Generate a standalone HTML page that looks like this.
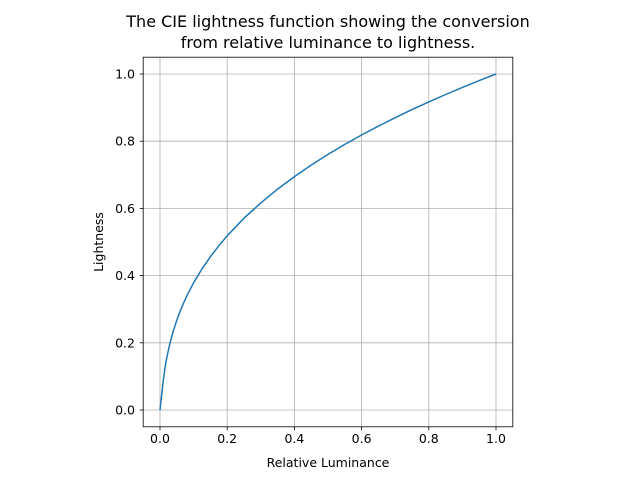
<!DOCTYPE html>
<html><head><style>body{margin:0;background:#fff}svg{display:block}text{font-family:"DejaVu Sans","Liberation Sans",sans-serif;fill:#000}</style></head>
<body>
<svg width="640" height="480" viewBox="0 0 640 480" xmlns="http://www.w3.org/2000/svg">
<rect width="640" height="480" fill="#fff"/>
<g stroke="#b0b0b0" stroke-width="0.8">
<line x1="160" y1="57.2" x2="160" y2="426.8"/><line x1="227.2" y1="57.2" x2="227.2" y2="426.8"/><line x1="294.4" y1="57.2" x2="294.4" y2="426.8"/><line x1="361.6" y1="57.2" x2="361.6" y2="426.8"/><line x1="428.8" y1="57.2" x2="428.8" y2="426.8"/><line x1="496" y1="57.2" x2="496" y2="426.8"/>
<line x1="143.2" y1="410" x2="512.8" y2="410"/><line x1="143.2" y1="342.8" x2="512.8" y2="342.8"/><line x1="143.2" y1="275.6" x2="512.8" y2="275.6"/><line x1="143.2" y1="208.4" x2="512.8" y2="208.4"/><line x1="143.2" y1="141.2" x2="512.8" y2="141.2"/><line x1="143.2" y1="74" x2="512.8" y2="74"/>
</g>
<polyline fill="none" stroke="#1f77b4" stroke-width="1.5" stroke-linejoin="round" points="160,410 160.67,403.95 161.68,394.9 163.36,379.8 165.04,367.6 166.72,358 170.08,342.7 173.44,330.5 176.8,320.2 180.16,311.2 183.52,303.2 186.88,295.8 193.6,282.8 202,268.9 210.4,256.7 218.8,245.8 227.2,235.8 244,218.2 260.8,202.9 277.6,189.1 294.4,176.6 311.2,165.1 328,154.4 344.8,144.4 361.6,135 378.4,126.1 395.2,117.7 412,109.6 428.8,101.95 445.6,94.5 462.4,87.4 479.2,80.6 496,74"/>
<rect x="143.2" y="57.2" width="369.6" height="369.6" fill="none" stroke="#000" stroke-width="0.8"/>
<g stroke="#000" stroke-width="0.8">
<line x1="160" y1="426.8" x2="160" y2="430.3"/><line x1="227.2" y1="426.8" x2="227.2" y2="430.3"/><line x1="294.4" y1="426.8" x2="294.4" y2="430.3"/><line x1="361.6" y1="426.8" x2="361.6" y2="430.3"/><line x1="428.8" y1="426.8" x2="428.8" y2="430.3"/><line x1="496" y1="426.8" x2="496" y2="430.3"/>
<line x1="139.7" y1="410" x2="143.2" y2="410"/><line x1="139.7" y1="342.8" x2="143.2" y2="342.8"/><line x1="139.7" y1="275.6" x2="143.2" y2="275.6"/><line x1="139.7" y1="208.4" x2="143.2" y2="208.4"/><line x1="139.7" y1="141.2" x2="143.2" y2="141.2"/><line x1="139.7" y1="74" x2="143.2" y2="74"/>
</g>
<g font-size="12.5" text-anchor="middle">
<text x="160" y="443">0.0</text><text x="227.2" y="443">0.2</text><text x="294.4" y="443">0.4</text><text x="361.6" y="443">0.6</text><text x="428.8" y="443">0.8</text><text x="496" y="443">1.0</text>
</g>
<g font-size="12.5" text-anchor="end">
<text x="135" y="414.5">0.0</text><text x="135" y="347.3">0.2</text><text x="135" y="280.1">0.4</text><text x="135" y="212.9">0.6</text><text x="135" y="145.7">0.8</text><text x="135" y="78.5">1.0</text>
</g>
<text x="328" y="467" font-size="12.5" text-anchor="middle">Relative Luminance</text>
<text transform="translate(103,242) rotate(-90)" font-size="12.5" text-anchor="middle">Lightness</text>
<text x="328" y="27" font-size="16" text-anchor="middle">The CIE lightness function showing the conversion</text>
<text x="328" y="48" font-size="16" text-anchor="middle">from relative luminance to lightness.</text>
</svg>
</body></html>
